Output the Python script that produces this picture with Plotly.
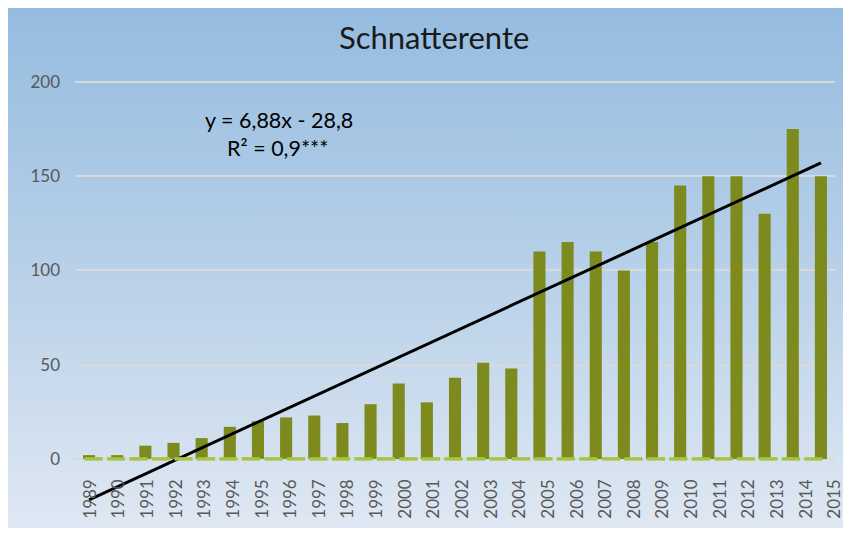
import base64
import plotly.graph_objects as go

# ── Daten ─────────────────────────────────────────────────────────────────────
jahre = [str(j) for j in range(1989, 2016)]
anzahl = [2, 2, 7, 8.5, 11, 17, 20, 22, 23, 19, 29, 40, 30, 43, 51, 48,
          110, 115, 110, 100, 115, 145, 150, 150, 130, 175, 150]
# zweite Reihe (nur Nullwerte, als kurze Striche auf der Nulllinie)
nullreihe = [0, 0, 0, 0, 0, 0, 0, 0, 0, 0, 0, 0, 0, 0, 0, 0, 0,
             0, 0, 0, 0, 0, 0, 0, 0, 0, 0, 0, 0, 0, 0, 0, 0]
# Trendlinie, Endpunkte
trend_x = ["1989", "2015"]
trend_y = [-21.7, 157]
y_ticks = [0, 50, 100, 150, 200]

OLIV = "#7c8a1e"
HELLGRUEN = "#a9c23f"
GRAU = "#595959"
FONT = "Lato"

# ── Hintergrund (Verlauf) ─────────────────────────────────────────────────────
svg = (
    '<svg xmlns="http://www.w3.org/2000/svg" width="843" height="520" '
    'viewBox="0 0 843 520" preserveAspectRatio="none">'
    '<defs><linearGradient id="g" x1="0" y1="0" x2="0" y2="1">'
    '<stop offset="0" stop-color="#95bce0"/>'
    '<stop offset="0.5" stop-color="#b8d0e8"/>'
    '<stop offset="1" stop-color="#dfe8f3"/>'
    '</linearGradient></defs>'
    '<rect width="843" height="520" fill="url(#g)"/></svg>'
)
bg_src = "data:image/svg+xml;base64," + base64.b64encode(svg.encode()).decode()

# ── Figur ─────────────────────────────────────────────────────────────────────
fig = go.Figure()

fig.add_trace(go.Bar(
    x=jahre, y=anzahl, width=0.43,
    marker_color=OLIV, marker_line_width=0,
    showlegend=False, hoverinfo="x+y"
))

fig.add_trace(go.Scatter(
    x=list(range(len(nullreihe))), y=nullreihe, xaxis="x2",
    mode="markers",
    marker=dict(symbol="line-ew", size=13, color=HELLGRUEN,
                line=dict(width=3.5, color=HELLGRUEN)),
    showlegend=False, hoverinfo="skip"
))

fig.add_trace(go.Scatter(
    x=trend_x, y=trend_y, mode="lines",
    line=dict(color="black", width=3),
    showlegend=False, hoverinfo="skip"
))

# unsichtbare Spur, damit die Beschriftungsachse gezeichnet wird
fig.add_trace(go.Scatter(
    x=[0], y=[0], xaxis="x3", mode="markers",
    marker_opacity=0, showlegend=False, hoverinfo="skip"
))

fig.update_layout(
    width=843, height=520,
    margin=dict(l=67, r=16, t=72, b=22, autoexpand=False),
    paper_bgcolor="white",
    plot_bgcolor="rgba(0,0,0,0)",
    font=dict(family=FONT, color=GRAU),
    barmode="overlay",
    xaxis=dict(
        type="category", range=[-0.5, 26.5], automargin=False,
        showticklabels=False, showgrid=False, zeroline=False, fixedrange=True
    ),
    xaxis2=dict(
        overlaying="x", range=[-0.822, 32.96], visible=False,
        automargin=False, fixedrange=True
    ),
    xaxis3=dict(
        overlaying="x", anchor="free", position=25 / 226,
        range=[-0.53, 26.01], automargin=False,
        tickmode="array", tickvals=list(range(len(jahre))), ticktext=jahre,
        tickangle=-90, tickfont=dict(size=17, color=GRAU, family=FONT),
        ticks="", ticklabelstandoff=16,
        showgrid=False, zeroline=False, showline=False, fixedrange=True
    ),
    yaxis=dict(
        range=[-25, 201], tickmode="array", tickvals=y_ticks, automargin=False,
        showgrid=True, gridcolor="#d9d9d9", gridwidth=1.5,
        zeroline=False, showline=False, ticks="",
        tickfont=dict(size=17, color=GRAU, family=FONT),
        ticklabelstandoff=14, fixedrange=True
    ),
    images=[dict(
        source=bg_src, xref="paper", yref="paper",
        x=-67 / 760, y=1 + 72 / 426, sizex=843 / 760, sizey=520 / 426,
        xanchor="left", yanchor="top", sizing="stretch", layer="below"
    )],
    annotations=[
        dict(text="Schnatterente", x=0.472, y=1.101, xref="paper", yref="paper",
             showarrow=False, xanchor="center", yanchor="middle",
             font=dict(size=31, color="#1a1a1a", family=FONT)),
        dict(text="y = 6,88x - 28,8", x=0.268, y=0.906, xref="paper", yref="paper",
             showarrow=False, xanchor="center", yanchor="middle",
             font=dict(size=21.5, color="black", family=FONT)),
        dict(text="R² = 0,9***", x=0.266, y=0.840, xref="paper", yref="paper",
             showarrow=False, xanchor="center", yanchor="middle",
             font=dict(size=21.5, color="black", family=FONT)),
    ],
)

fig.write_html("out.html")
